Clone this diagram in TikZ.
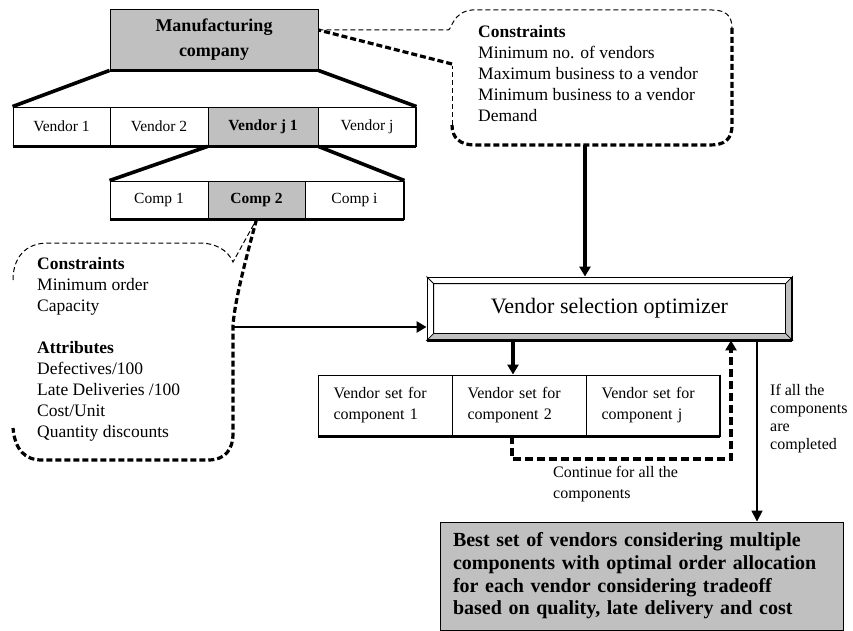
\documentclass[tikz,border=0pt]{standalone}
\usepackage{fontspec}
\setmainfont{Liberation Serif}
\usetikzlibrary{arrows.meta, positioning}
\definecolor{boxgray}{RGB}{192,192,192}

\begin{document}
\begin{tikzpicture}[x=1pt, y=-1pt,
        cell/.style={draw, line width=0.9pt, inner sep=0pt, font=\fontsize{15.5}{18}\selectfont},
        graycell/.style={cell, fill=boxgray, font=\bfseries\fontsize{15.5}{18}\selectfont},
        setcell/.style={draw, line width=0.9pt, inner sep=0pt, minimum width=134pt, minimum height=61pt,
            text width=103pt, align=left, font=\fontsize{16}{21}\selectfont},
        note/.style={align=left, inner sep=0pt, font=\fontsize{17.5}{21}\selectfont},
        shadowline/.style={line width=3.6pt},
        bigarrow/.style={line width=3.2pt, -{Triangle[length=10pt,width=11pt]}},
        thinarrow/.style={line width=1.6pt, -{Triangle[length=11pt,width=11pt]}},
        loopline/.style={line width=3.2pt, dash pattern=on 8pt off 4pt, -{Triangle[length=10pt,width=11pt]}},
        lightdash/.style={line width=1pt, dash pattern=on 5pt off 3pt},
        heavydash/.style={line width=3.2pt, dash pattern=on 6pt off 3pt}]
        \useasboundingbox (0,0) rectangle (853,631);

        % company and its vendors
        \node[cell, fill=boxgray, align=center, minimum width=208pt, minimum height=61pt,
            font=\bfseries\fontsize{18}{25}\selectfont] (mfg) at (214,39.5) {Manufacturing\\company};
        \node[cell, minimum width=97pt, minimum height=39pt] (v1) at (61.5,126.5) {Vendor 1};
        \node[cell, minimum width=98pt, minimum height=39pt] (v2) at (159,126.5) {Vendor 2};
        \node[graycell, minimum width=110pt, minimum height=39pt] (vj1) at (263,126.5) {Vendor j 1};
        \node[cell, minimum width=98pt, minimum height=39pt] (vj) at (367,126.5) {Vendor j};

        \node[cell, minimum width=98pt, minimum height=38pt] (c1) at (159,200) {Comp 1};
        \node[graycell, minimum width=97pt, minimum height=38pt] (c2) at (256.5,200) {Comp 2};
        \node[cell, minimum width=99pt, minimum height=38pt] (ci) at (354.5,200) {Comp i};

        \draw[shadowline] (mfg.south west) -- (mfg.south east)
            (v1.south west) -- (vj.south east)
            (c1.south west) -- (ci.south east);
        \draw[line width=2pt] (vj.north east) -- (vj.south east)
            (ci.north east) -- (ci.south east);
        \draw[line width=3.6pt] (mfg.south west) to (v1.north west)
            (mfg.south east) to (vj.north east)
            (vj1.south west) to (c1.north west)
            (vj1.south east) to (ci.north east);

        % optimizer with bevelled frame
        \node[draw, line width=0.9pt, inner sep=0pt, minimum width=365pt, minimum height=63pt,
            font=\fontsize{22}{26}\selectfont] (opt) at (609.5,308.5) {Vendor selection optimizer};
        \coordinate (oi1) at ([shift={(7pt,-7pt)}]opt.north west);
        \coordinate (oi2) at ([shift={(-7pt,-7pt)}]opt.north east);
        \coordinate (oi3) at ([shift={(-7pt,7pt)}]opt.south east);
        \coordinate (oi4) at ([shift={(7pt,7pt)}]opt.south west);
        \filldraw[fill=boxgray, line width=0.7pt] (opt.north east) -- (oi2) -- (oi3) -- (opt.south east) -- cycle
            (opt.south west) -- (oi4) -- (oi3) -- (opt.south east) -- cycle;
        \draw[line width=0.9pt] (oi1) rectangle (oi3)
            (opt.north west) -- (oi1);
        \draw[shadowline] (opt.south west) -- (opt.south east);
        \draw[line width=2pt] (opt.north east) -- (opt.south east);

        % vendor sets
        \node[setcell] (s1) at (385,405.5) {Vendor set for\\component 1};
        \node[setcell] (s2) at (519,405.5) {Vendor set for\\component 2};
        \node[setcell] (sj) at (653,405.5) {Vendor set for\\component j};
        \draw[shadowline] (s1.south west) -- (sj.south east);
        \draw[line width=2pt] (sj.north east) -- (sj.south east);

        \node[draw, fill=boxgray, line width=0.9pt, inner sep=0pt, minimum width=403pt, minimum height=108pt,
            text width=377pt, align=left, font=\bfseries\fontsize{20}{22.7}\selectfont] (best) at (641.5,576)
            {Best set of vendors considering multiple\\components with optimal order allocation\\for each vendor considering tradeoff\\based on quality, late delivery and cost};

        % callout of the company
        \node[note, anchor=west] (cons) at (478,73.5)
            {\textbf{Constraints}\\Minimum no. of vendors\\Maximum business to a vendor\\Minimum business to a vendor\\Demand};
        \draw[lightdash] ([yshift=9.5pt]mfg.east) -- (448,30) .. controls (452,30) and (452,12) .. (472,10)
            -- (712,10) .. controls (726,10) and (732,16) .. (732,28);
        \draw[heavydash] (732,28) -- (732,125) .. controls (732,140) and (724,145) .. (710,145)
            -- (475,145) .. controls (460,145) and (452,138) .. (452,125);
        \draw[lightdash] (452,125) -- (452,66);
        \draw[heavydash] (452,64) -- ([yshift=9.5pt]mfg.east);

        % callout of the component
        \node[note, anchor=west] (attr) at (37,349)
            {\textbf{Constraints}\\Minimum order\\Capacity\\[21pt]\textbf{Attributes}\\Defectives/100\\Late Deliveries /100\\Cost/Unit\\Quantity discounts};
        \draw[lightdash] (13,280) .. controls (13,258) and (25,243) .. (48,243) -- (200,243)
            .. controls (215,243) and (228,250) .. (233,262) -- (c2.south);
        \draw[heavydash] (c2.south) .. controls (245,262) and (235,300) .. (233,325) -- (233,433)
            .. controls (233,450) and (225,460) .. (208,460) -- (42,460) .. controls (25,460) and (15,450) .. (13,428);

        % connectors
        \coordinate (cb) at (585,145);
        \coordinate (ca) at (233,327);
        \coordinate (lp) at (731,459);
        \coordinate (rx) at (757,0);
        \draw[bigarrow] (cb) -- (cb |- opt.north);
        \draw[bigarrow, line width=2.6pt] (ca) -- (ca -| opt.west);
        \draw[bigarrow] ([xshift=-6pt]s2.north |- opt.south) -- ([xshift=-6pt]s2.north);
        \draw[loopline] ([xshift=-7pt]s2.south) |- (lp) -- (lp |- opt.south);
        \draw[thinarrow] (rx |- opt.south) -- (rx |- best.north);

        \node[inner sep=0pt, anchor=north west, align=left, font=\fontsize{16}{21}\selectfont] (cont) at (553,466)
            {Continue for all the\\components};
        \node[inner sep=0pt, anchor=west, align=left, font=\fontsize{16}{18}\selectfont] (done) at (770,418.5)
            {If all the\\components\\are\\completed};
    \end{tikzpicture}
\end{document}
